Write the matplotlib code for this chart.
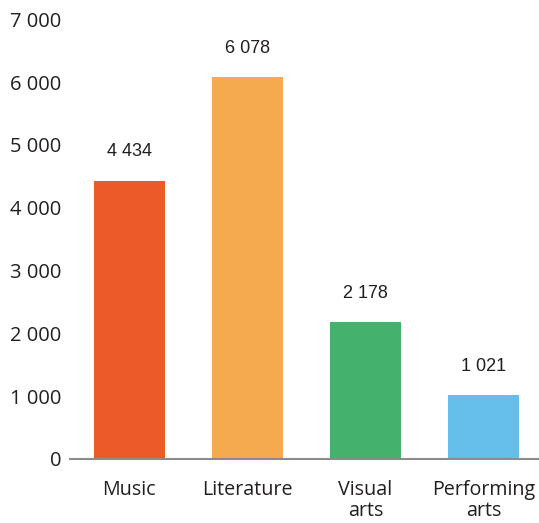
import matplotlib
matplotlib.use("Agg")
import matplotlib.pyplot as plt
from matplotlib.ticker import FuncFormatter

categories = ["Music", "Literature", "Visual\narts", "Performing\narts"]
values = [4434, 6078, 2178, 1021]
colors = ["#EB5B27", "#F6AA50", "#44B16C", "#65BDEA"]
y_ticks = [0, 1000, 2000, 3000, 4000, 5000, 6000, 7000]

text_color = "#231F20"


def spaced(v, _pos=None):
    return f"{int(v):,}".replace(",", " ")


fig = plt.figure(figsize=(5.39, 5.23), dpi=100)
ax = fig.add_axes([70 / 539, 64 / 523, 1 - 70 / 539, (523 - 64 - 19.4) / 523])

x = list(range(len(categories)))
bars = ax.bar(x, values, width=0.6, color=colors, zorder=2)

ax.set_xlim(-0.5, 3.47)
ax.set_ylim(0, 7000)
ax.set_yticks(y_ticks)
ax.yaxis.set_major_formatter(FuncFormatter(spaced))
ax.set_xticks(x)
ax.set_xticklabels(categories, linespacing=1.1)

for s in ["top", "right", "left"]:
    ax.spines[s].set_visible(False)
ax.spines["bottom"].set_color("#8C8C8C")
ax.spines["bottom"].set_linewidth(1.5)

ax.tick_params(axis="y", length=0, pad=6, labelsize=14.5, labelcolor=text_color)
ax.tick_params(axis="x", length=0, pad=15, labelsize=14.2, labelcolor=text_color)
for lab in ax.get_xticklabels() + ax.get_yticklabels():
    lab.set_fontfamily("Open Sans")

for rect, v in zip(bars, values):
    ax.annotate(spaced(v), (rect.get_x() + rect.get_width() / 2, v),
                xytext=(0, 14.5), textcoords="offset points",
                ha="center", va="bottom", fontsize=13,
                family="Liberation Sans", color=text_color)

fig.savefig("out.png", dpi=100)
